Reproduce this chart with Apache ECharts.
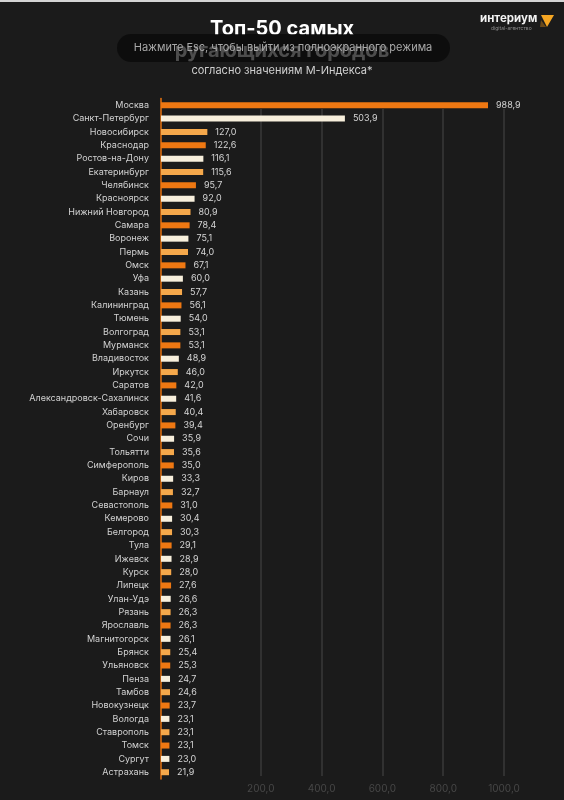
<!DOCTYPE html>
<html><head><meta charset="utf-8">
<script src="https://cdn.jsdelivr.net/npm/echarts@6/dist/echarts.min.js"></script>
<style>html,body{margin:0;padding:0;background:#1b1b1b;}#c{width:564px;height:800px;}</style>
</head><body><div id="c"></div>
<script>
const cities = ["Москва","Санкт-Петербург","Новосибирск","Краснодар","Ростов-на-Дону","Екатеринбург","Челябинск","Красноярск","Нижний Новгород","Самара","Воронеж","Пермь","Омск","Уфа","Казань","Калининград","Тюмень","Волгоград","Мурманск","Владивосток","Иркутск","Саратов","Александровск-Сахалинск","Хабаровск","Оренбург","Сочи","Тольятти","Симферополь","Киров","Барнаул","Севастополь","Кемерово","Белгород","Тула","Ижевск","Курск","Липецк","Улан-Удэ","Рязань","Ярославль","Магнитогорск","Брянск","Ульяновск","Пенза","Тамбов","Новокузнецк","Вологда","Ставрополь","Томск","Сургут","Астрахань"];
const mIndex = [988.9,503.9,127.0,122.6,116.1,115.6,95.7,92.0,80.9,78.4,75.1,74.0,67.1,60.0,57.7,56.1,54.0,53.1,53.1,48.9,46.0,42.0,41.6,40.4,39.4,35.9,35.6,35.0,33.3,32.7,31.0,30.4,30.3,29.1,28.9,28.0,27.6,26.6,26.3,26.3,26.1,25.4,25.3,24.7,24.6,23.7,23.1,23.1,23.1,23.0,21.9];
const gridTicks = [0,200,400,600,800,1000];
const barColors = ['#ef7812','#f7efdc','#f5a84b'];
const titleLine1 = "Топ-50 самых";
const titleLine2 = "ругающихся городов";
const subtitle = "согласно значениям М-Индекса*";
const overlayText = "Нажмите Esc, чтобы выйти из полноэкранного режима";

const fmt = v => v.toFixed(1).replace('.', ',');
const FONT = 'Inter, "Noto Sans", sans-serif';

const chart = echarts.init(document.getElementById('c'), null, {renderer:'canvas'});
chart.setOption({
  backgroundColor: '#1b1b1b',
  animation: false,
  grid: [
    {left: 161, width: 327, top: 98.6, height: 680.3},
    {left: 200, width: 304, top: 109, height: 667}
  ],
  xAxis: [
    {type:'value', gridIndex:0, min:0, max:896, show:false},
    {type:'value', gridIndex:1, min:gridTicks[0], max:gridTicks[gridTicks.length-1], interval:200,
     axisLine:{show:false}, axisTick:{show:false},
     splitLine:{show:true, showMinLine:false, lineStyle:{color:'#3a3a3a', width:1.5}},
     axisLabel:{color:'#474747', fontSize:10, fontFamily:FONT, margin:8, showMinLabel:false, formatter: v => fmt(v)}}
  ],
  yAxis: [
    {type:'category', gridIndex:0, data:cities, inverse:true,
     axisLine:{show:true, lineStyle:{color:'#e8730f', width:1.5}},
     axisTick:{show:false},
     axisLabel:{color:'#d2d2d2', fontSize:9, fontFamily:FONT, margin:12}},
    {type:'value', gridIndex:1, min:0, max:1, show:false}
  ],
  series: [{
    type:'bar', xAxisIndex:0, yAxisIndex:0, data:mIndex, barWidth:6, clip:true,
    itemStyle:{color: p => barColors[p.dataIndex % 3]},
    label:{show:true, position:'right', distance:8, color:'#d5d5d5', fontSize:9, fontFamily:FONT,
      formatter: p => fmt(p.value)}
  }],
  graphic: [
    {type:'rect', shape:{x:0,y:0,width:564,height:2}, style:{fill:'#d4d4d4'}, z:10},
    {type:'text', x:282, y:29, style:{text:titleLine1, fill:'#ffffff', font:'bold 20px '+FONT, align:'center', verticalAlign:'middle'}, z:5},
    {type:'text', x:282, y:51, style:{text:titleLine2, fill:'#ffffff', font:'bold 20px '+FONT, align:'center', verticalAlign:'middle'}, z:5},
    {type:'text', x:282, y:71, style:{text:subtitle, fill:'#cfcfcf', font:'11px '+FONT, align:'center', verticalAlign:'middle'}, z:5},
    {type:'rect', shape:{x:117, y:34, width:333, height:28, r:14}, style:{fill:'rgba(8,8,8,0.72)'}, z:20},
    {type:'text', x:283, y:48, style:{text:overlayText, fill:'#a8a8a8', font:'11px '+FONT, align:'center', verticalAlign:'middle'}, z:21},
    {type:'text', x:480, y:19, style:{text:'интериум', fill:'#f2f2f2', font:'bold 11.5px '+FONT, align:'left', verticalAlign:'middle'}, z:5},
    {type:'text', x:491, y:28, style:{text:'digital-агентство', fill:'#8a8a8a', font:'5px '+FONT, align:'left', verticalAlign:'middle'}, z:5},
    {type:'polygon', shape:{points:[[541,15],[554,15],[547,27]]}, style:{fill:'#f5a623'}, z:5},
    {type:'polygon', shape:{points:[[541,20],[546,27],[540,27]]}, style:{fill:'#6b4a1a'}, z:5}
  ]
});
</script></body></html>
